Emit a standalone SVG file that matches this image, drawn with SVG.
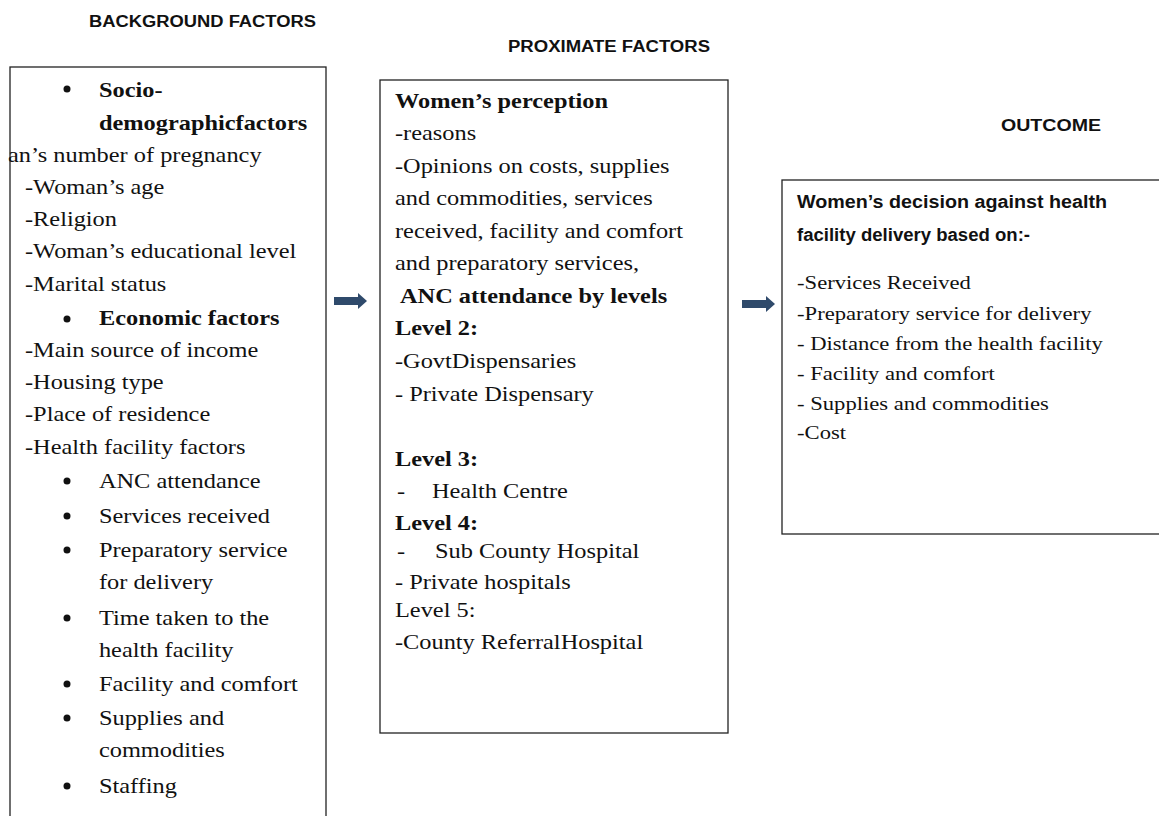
<svg xmlns="http://www.w3.org/2000/svg" width="1159" height="816" viewBox="0 0 1159 816">
<style>
.box{fill:#fff;stroke:#222;stroke-width:1.3}
.hd{font-family:"Liberation Sans",Arial,sans-serif;font-weight:bold;font-size:16px;fill:#111}
.t{font-family:"Liberation Serif","Times New Roman",serif;font-size:21px;fill:#111}
.b{font-weight:bold}
.r{font-family:"Liberation Serif","Times New Roman",serif;font-size:19.5px;fill:#111}
.rh{font-family:"Liberation Sans",Arial,sans-serif;font-weight:bold;font-size:18px;fill:#111}
.arr{fill:#2f4a6b}
</style>
<defs>
<path id="ar" d="M0,-4 L24,-4 L24,-8 L33,0 L24,8 L24,4 L0,4 Z"/>
</defs>
<text class="hd" x="89" y="27" textLength="227" lengthAdjust="spacingAndGlyphs">BACKGROUND FACTORS</text>
<text class="hd" x="508" y="52" textLength="202" lengthAdjust="spacingAndGlyphs">PROXIMATE FACTORS</text>
<text class="hd" x="1001" y="131" textLength="100" lengthAdjust="spacingAndGlyphs">OUTCOME</text>

<g id="background">
<rect class="box" x="10" y="67" width="316" height="760"/>
<g fill="#111">
<circle cx="67" cy="89" r="3.5"/>
<circle cx="67" cy="319" r="3.5"/>
<circle cx="67" cy="481" r="3.5"/>
<circle cx="67" cy="516" r="3.5"/>
<circle cx="67" cy="550" r="3.5"/>
<circle cx="67" cy="618" r="3.5"/>
<circle cx="67" cy="684" r="3.5"/>
<circle cx="67" cy="718" r="3.5"/>
<circle cx="67" cy="786" r="3.5"/>
</g>
<g class="t" transform="scale(1.16,1)">
<text class="b" x="85.3" y="97">Socio-</text>
<text class="b" x="85.3" y="130">demographicfactors</text>
<text x="6.9" y="162">an’s number of pregnancy</text>
<text x="21.55" y="194">-Woman’s age</text>
<text x="21.55" y="226">-Religion</text>
<text x="21.55" y="258">-Woman’s educational level</text>
<text x="21.55" y="291">-Marital status</text>
<text class="b" x="85.3" y="325">Economic factors</text>
<text x="21.55" y="357">-Main source of income</text>
<text x="21.55" y="389">-Housing type</text>
<text x="21.55" y="421">-Place of residence</text>
<text x="21.55" y="454">-Health facility factors</text>
<text x="85.3" y="488">ANC attendance</text>
<text x="85.3" y="523">Services received</text>
<text x="85.3" y="557">Preparatory service</text>
<text x="85.3" y="589">for delivery</text>
<text x="85.3" y="625">Time taken to the</text>
<text x="85.3" y="657">health facility</text>
<text x="85.3" y="691">Facility and comfort</text>
<text x="85.3" y="725">Supplies and</text>
<text x="85.3" y="757">commodities</text>
<text x="85.3" y="793">Staffing</text>
</g>
</g>

<g id="proximate">
<rect class="box" x="380" y="80" width="348" height="653"/>
<g class="t" transform="scale(1.16,1)">
<text class="b" x="340.5" y="108">Women’s perception</text>
<text x="340.5" y="140">-reasons</text>
<text x="340.5" y="173">-Opinions on costs, supplies</text>
<text x="340.5" y="205">and commodities, services</text>
<text x="340.5" y="238">received, facility and comfort</text>
<text x="340.5" y="270">and preparatory services,</text>
<text class="b" x="344.8" y="303">ANC attendance by levels</text>
<text class="b" x="340.5" y="335">Level 2:</text>
<text x="340.5" y="368">-GovtDispensaries</text>
<text x="340.5" y="401">- Private Dispensary</text>
<text class="b" x="340.5" y="466">Level 3:</text>
<text x="342.2" y="498">-</text>
<text x="372.4" y="498">Health Centre</text>
<text class="b" x="340.5" y="530">Level 4:</text>
<text x="342.2" y="558">-</text>
<text x="375" y="558">Sub County Hospital</text>
<text x="340.5" y="589">- Private hospitals</text>
<text x="340.5" y="617">Level 5:</text>
<text x="340.5" y="649">-County ReferralHospital</text>
</g>
</g>

<g id="outcome">
<rect class="box" x="782" y="180" width="390" height="354"/>
<text class="rh" x="797" y="208" textLength="310" lengthAdjust="spacingAndGlyphs">Women’s decision against health</text>
<text class="rh" x="797" y="241" textLength="233" lengthAdjust="spacingAndGlyphs">facility delivery based on:-</text>
<g class="r" transform="scale(1.16,1)">
<text x="687.1" y="289">-Services Received</text>
<text x="687.1" y="320">-Preparatory service for delivery</text>
<text x="687.1" y="350">- Distance from the health facility</text>
<text x="687.1" y="380">- Facility and comfort</text>
<text x="687.1" y="410">- Supplies and commodities</text>
<text x="687.1" y="439">-Cost</text>
</g>
</g>

<g id="connectors">
<use href="#ar" class="arr" x="334" y="301"/>
<use href="#ar" class="arr" x="742" y="304"/>
</g>
</svg>
